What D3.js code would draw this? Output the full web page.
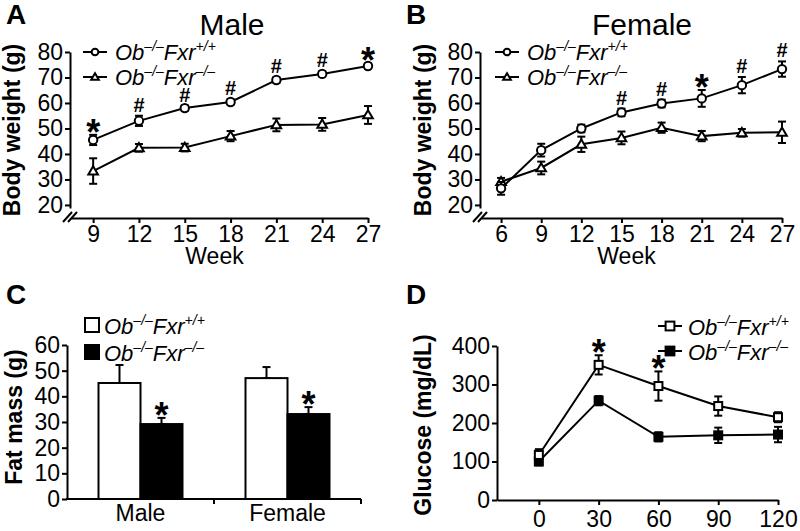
<!DOCTYPE html>
<html>
<head>
<meta charset="utf-8">
<script src="https://cdn.jsdelivr.net/npm/d3@7"></script>
<style>
  body { margin: 0; background: #fff; }
  svg { display: block; font-family: "Liberation Sans", Arial, sans-serif; }
  .axis path, .axis line { stroke: #000; stroke-width: 2; }
  .axis text { font-size: 23px; fill: #000; }
</style>
</head>
<body>
<div id="chart"></div>
<script>
// ---- data ----
const maleWeeks = [9, 12, 15, 18, 21, 24, 27];
const maleWT = [45.5, 53, 58, 60.4, 69, 71.4, 74.5];
const maleWTErr = [2, 2, 1, 1, 1, 1, 1];
const maleKO = [33.3, 42.4, 42.5, 47, 51.4, 51.6, 55.3];
const maleKOErr = [5, 1.5, 1.5, 2, 2.5, 2.5, 3.5];
const maleMarks = ["*", "#", "#", "#", "#", "#", "*"];

const femaleWeeks = [6, 9, 12, 15, 18, 21, 24, 27];
const femaleWT = [26.5, 41.5, 50, 56.3, 59.8, 61.8, 67, 73.3];
const femaleWTErr = [2.5, 2.5, 1.5, 1.5, 1.5, 3.3, 3.2, 3];
const femaleKO = [29.1, 34.5, 43.8, 46.3, 50.3, 47, 48.3, 48.5];
const femaleKOErr = [1.5, 2.5, 3, 2.5, 2, 2, 1.5, 4.2];
const femaleMarks = ["", "", "", "#", "#", "*", "#", "#"];

const fatGroups = ["Male", "Female"];
const fatWT = [45.2, 47.1];
const fatWTErr = [7, 4.3];
const fatKO = [29.2, 33.1];
const fatKOErr = [2.4, 2.7];
const fatMarks = ["*", "*"];

const glucoseTimes = [0, 30, 60, 90, 120];
const glucoseWT = [117, 351, 296, 244, 215];
const glucoseWTErr = [15, 25, 38, 25, 13];
const glucoseKO = [100, 258, 164, 168, 170];
const glucoseKOErr = [10, 12, 12, 20, 20];
const glucoseMarks = ["", "*", "*", "", ""];

const weightTicks = [20, 30, 40, 50, 60, 70, 80];
const fatTicks = [0, 10, 20, 30, 40, 50, 60];
const glucoseTicks = [0, 100, 200, 300, 400];

const svg = d3.select("#chart").append("svg")
    .attr("width", 800)
    .attr("height", 531);

svg.append("rect").attr("width", 800).attr("height", 531).attr("fill", "#fff");

// ---- helpers ----
function genotype(g, x, y, sup) {
    // Ob-/-Fxr+/+ style label
    let t = g.append("text")
        .attr("x", x).attr("y", y)
        .attr("font-size", 22)
        .attr("font-style", "italic");
    t.append("tspan").text("Ob");
    t.append("tspan").attr("dy", -9).attr("font-size", 14).text("\u2013/\u2013");
    t.append("tspan").attr("dy", 9).text("Fxr");
    t.append("tspan").attr("dy", -9).attr("font-size", 14).text(sup);
}

function marker(g, type, x, y, s) {
    s = s || 1;
    if (type === "circle") {
        g.append("circle").attr("cx", x).attr("cy", y).attr("r", 4.2 * s)
            .attr("fill", "#fff").attr("stroke", "#000").attr("stroke-width", 2);
    } else if (type === "triangle") {
        let h = 4.8 * s;
        g.append("path")
            .attr("d", `M${x},${y - h}L${x + h},${y + h * 0.7}L${x - h},${y + h * 0.7}Z`)
            .attr("fill", "#fff").attr("stroke", "#000").attr("stroke-width", 2);
    } else {
        let filled = type === "filled";
        let h = 4 * s;
        g.append("rect").attr("x", x - h).attr("y", y - h)
            .attr("width", 2 * h).attr("height", 2 * h)
            .attr("fill", filled ? "#000" : "#fff")
            .attr("stroke", "#000").attr("stroke-width", 2);
    }
}

function errorBar(g, x, y1, y2) {
    g.append("line").attr("x1", x).attr("x2", x).attr("y1", y1).attr("y2", y2)
        .attr("stroke", "#000").attr("stroke-width", 2);
    [y1, y2].forEach(yy => {
        g.append("line").attr("x1", x - 4).attr("x2", x + 4).attr("y1", yy).attr("y2", yy)
            .attr("stroke", "#000").attr("stroke-width", 2);
    });
}

function annotate(g, mark, x, cy) {
    if (!mark) return;
    if (mark === "*") {
        g.append("text").attr("x", x).attr("y", cy + 21)
            .attr("text-anchor", "middle").attr("font-size", 36).attr("font-weight", "bold")
            .text("*");
    } else {
        g.append("text").attr("x", x).attr("y", cy + 7)
            .attr("text-anchor", "middle").attr("font-size", 20).attr("font-weight", "bold")
            .text("#");
    }
}

function panelLabel(x, y, txt) {
    svg.append("text").attr("x", x).attr("y", y)
        .attr("font-size", 28).attr("font-weight", "bold").text(txt);
}

function yTitle(x, cy, txt) {
    svg.append("text")
        .attr("transform", `translate(${x},${cy}) rotate(-90)`)
        .attr("text-anchor", "middle")
        .attr("font-size", 23).attr("font-weight", "bold")
        .text(txt);
}

function series(g, xs, ys, errs, x, y, type, marks) {
    let line = d3.line().x((d, i) => x(xs[i])).y(d => y(d));
    g.append("path").datum(ys).attr("d", line)
        .attr("fill", "none").attr("stroke", "#000").attr("stroke-width", 2);
    ys.forEach((v, i) => {
        errorBar(g, x(xs[i]), y(v - errs[i]), y(v + errs[i]));
    });
    ys.forEach((v, i) => marker(g, type, x(xs[i]), y(v)));
    if (marks) ys.forEach((v, i) => annotate(g, marks[i], x(xs[i]), y(v + errs[i]) - 11));
}

// ---- weight panels (A, B) ----
function weightPanel(opts) {
    let g = svg.append("g");
    let x = d3.scaleLinear().domain(opts.xDomain).range(opts.xRange);
    let y = d3.scaleLinear().domain([18.8, 80]).range([208, 52]);

    g.append("g").attr("class", "axis")
        .attr("transform", `translate(${opts.xRange[0] - 1},0)`)
        .call(d3.axisLeft(y).tickValues(weightTicks).tickSize(5).tickSizeOuter(0).tickPadding(2));

    g.append("g").attr("class", "axis")
        .attr("transform", "translate(0,218)")
        .call(d3.axisBottom(x).tickValues(opts.weeks).tickSize(5).tickSizeOuter(0).tickPadding(3));

    // axis break
    let bx = opts.xRange[0] - 1;
    [-4, 1].forEach(dx => {
        g.append("line")
            .attr("x1", bx + dx - 3).attr("y1", 222)
            .attr("x2", bx + dx + 6).attr("y2", 212)
            .attr("stroke", "#000").attr("stroke-width", 2);
    });

    g.append("text").attr("x", (opts.xRange[0] + opts.xRange[1]) / 2 - 5).attr("y", 264)
        .attr("text-anchor", "middle").attr("font-size", 23).text("Week");

    series(g, opts.weeks, opts.ko, opts.koErr, x, y, "triangle", null);
    series(g, opts.weeks, opts.wt, opts.wtErr, x, y, "circle", opts.marks);

    // legend
    let lx = opts.legendX;
    [["circle", 52, "+/+"], ["triangle", 77, "\u2013/\u2013"]].forEach(([type, ly, sup]) => {
        g.append("line").attr("x1", lx).attr("x2", lx + 24).attr("y1", ly).attr("y2", ly)
            .attr("stroke", "#000").attr("stroke-width", 2);
        marker(g, type, lx + 12, ly, 0.8);
        genotype(g, lx + 32, ly + 8, sup);
    });

    g.append("text").attr("x", opts.titleX).attr("y", 35)
        .attr("text-anchor", "middle").attr("font-size", 30).text(opts.title);
}

weightPanel({
    weeks: maleWeeks, wt: maleWT, wtErr: maleWTErr, ko: maleKO, koErr: maleKOErr, marks: maleMarks,
    xDomain: [7.55, 27], xRange: [71, 368], legendX: 83, title: "Male", titleX: 232
});
weightPanel({
    weeks: femaleWeeks, wt: femaleWT, wtErr: femaleWTErr, ko: femaleKO, koErr: femaleKOErr, marks: femaleMarks,
    xDomain: [4.5, 27], xRange: [481, 782], legendX: 495, title: "Female", titleX: 642
});

panelLabel(6, 24, "A");
panelLabel(406, 24, "B");
yTitle(20, 130, "Body weight (g)");
yTitle(431, 130, "Body weight (g)");

// ---- fat mass panel (C) ----
{
    let g = svg.append("g");
    let y = d3.scaleLinear().domain([0, 60]).range([499, 345]);
    let x0 = d3.scaleBand().domain(fatGroups).range([67, 361]);
    let bw = 42;

    g.append("g").attr("class", "axis")
        .attr("transform", "translate(67,0)")
        .call(d3.axisLeft(y).tickValues(fatTicks).tickSize(5).tickSizeOuter(0).tickPadding(2));

    let xa = g.append("g").attr("class", "axis").attr("transform", "translate(0,499)");
    xa.append("line").attr("x1", 66).attr("x2", 361);
    [x0("Female"), 361].forEach(t => {
        xa.append("line").attr("x1", t).attr("x2", t).attr("y1", 0).attr("y2", 5);
    });
    fatGroups.forEach(gname => {
        xa.append("text").attr("x", x0(gname) + x0.bandwidth() / 2).attr("y", 22)
            .attr("text-anchor", "middle").attr("font-size", 23).text(gname);
    });

    fatGroups.forEach((gname, i) => {
        let cx = x0(gname) + x0.bandwidth() / 2;
        [[fatWT[i], fatWTErr[i], "#fff", cx - bw], [fatKO[i], fatKOErr[i], "#000", cx]].forEach(([v, e, fill, bx]) => {
            errorBar(g, bx + bw / 2, y(v), y(v + e));
            g.append("rect").attr("x", bx).attr("y", y(v)).attr("width", bw).attr("height", y(0) - y(v))
                .attr("fill", fill).attr("stroke", "#000").attr("stroke-width", 2);
        });
        annotate(g, fatMarks[i], cx + bw / 2, y(fatKO[i] + fatKOErr[i]) - 11);
    });

    // legend
    [["#fff", 325, "+/+"], ["#000", 352, "\u2013/\u2013"]].forEach(([fill, ly, sup]) => {
        g.append("rect").attr("x", 85).attr("y", ly - 7).attr("width", 14).attr("height", 14)
            .attr("fill", fill).attr("stroke", "#000").attr("stroke-width", 2);
        genotype(g, 104, ly + 9, sup);
    });
}
panelLabel(6, 304, "C");
yTitle(22, 417, "Fat mass (g)");

// ---- glucose panel (D) ----
{
    let g = svg.append("g");
    let x = d3.scaleLinear().domain([-21, 120]).range([497, 778]);
    let y = d3.scaleLinear().domain([0, 400]).range([500, 346]);

    g.append("g").attr("class", "axis")
        .attr("transform", "translate(497,0)")
        .call(d3.axisLeft(y).tickValues(glucoseTicks).tickSize(5).tickSizeOuter(0).tickPadding(2));

    g.append("g").attr("class", "axis")
        .attr("transform", "translate(0,500)")
        .call(d3.axisBottom(x).tickValues(glucoseTimes).tickSize(5).tickSizeOuter(0).tickPadding(6));

    series(g, glucoseTimes, glucoseKO, glucoseKOErr, x, y, "filled", null);
    series(g, glucoseTimes, glucoseWT, glucoseWTErr, x, y, "open", glucoseMarks);

    [["open", 326, "+/+"], ["filled", 351, "\u2013/\u2013"]].forEach(([type, ly, sup]) => {
        g.append("line").attr("x1", 658).attr("x2", 682).attr("y1", ly).attr("y2", ly)
            .attr("stroke", "#000").attr("stroke-width", 2);
        marker(g, type, 670, ly, 1.1);
        genotype(g, 688, ly + 9, sup);
    });
}
panelLabel(406, 304, "D");
yTitle(431, 425, "Glucose (mg/dL)");
</script>
</body>
</html>
